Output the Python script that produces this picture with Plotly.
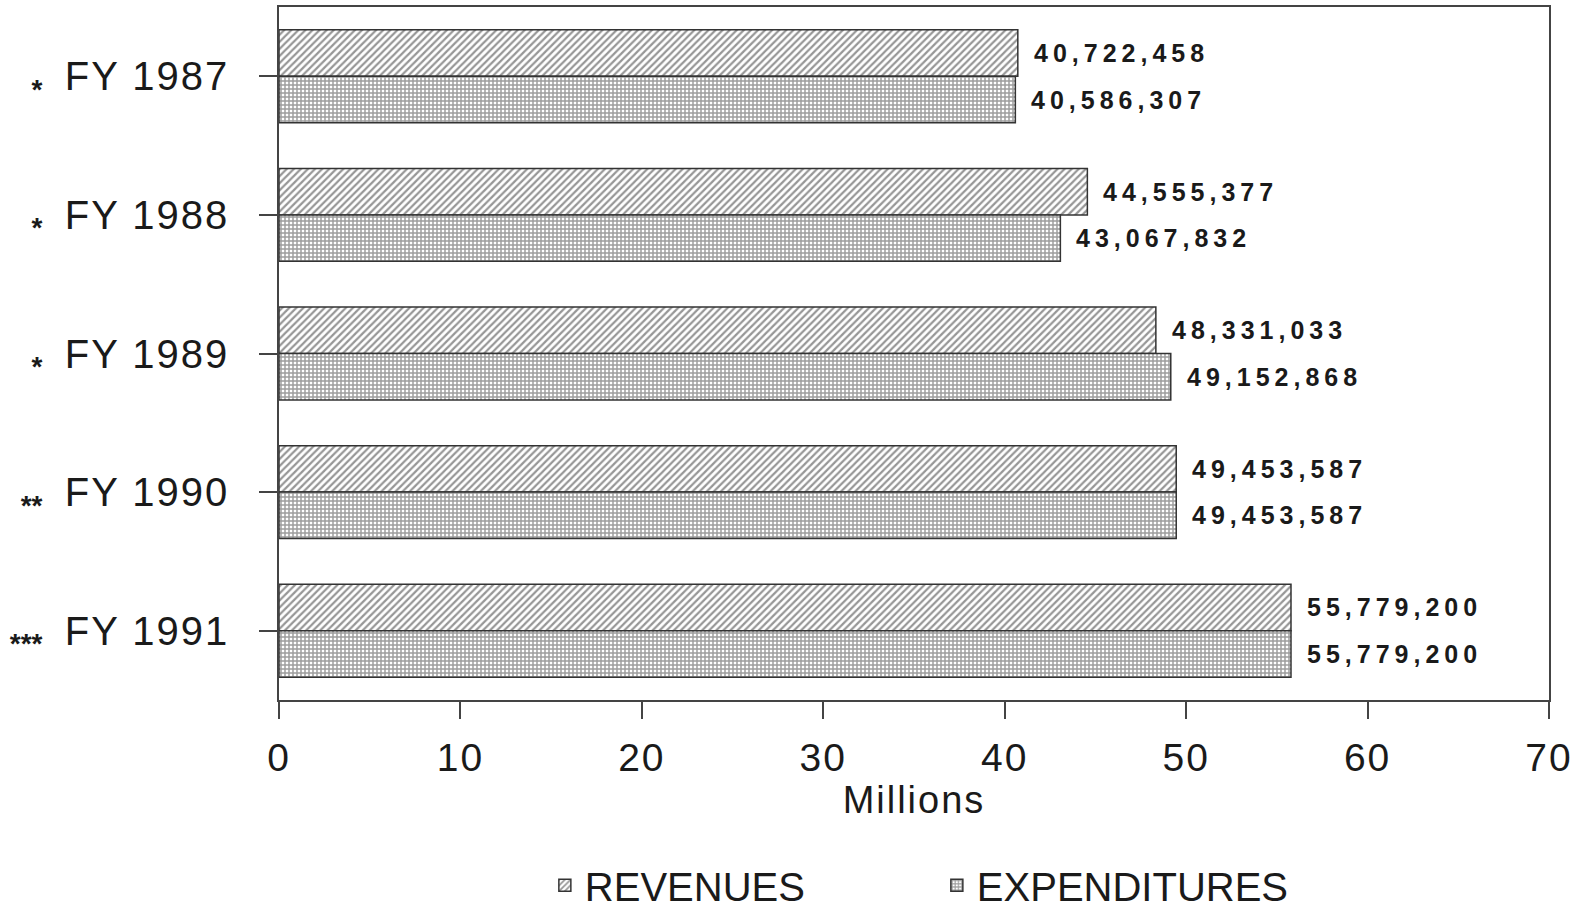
import plotly.graph_objects as go

years = ["FY 1987", "FY 1988", "FY 1989", "FY 1990", "FY 1991"]
stars = ["*", "*", "*", "**", "***"]
revenues = [40722458, 44555377, 48331033, 49453587, 55779200]
expenditures = [40586307, 43067832, 49152868, 49453587, 55779200]
x_ticks = [0, 10, 20, 30, 40, 50, 60, 70]

labels = [f"<sub><b>{s}</b></sub>\u00a0 <span style='letter-spacing:2px'>{y}</span>"
          for s, y in zip(stars, years)]
x_tick_text = [f"<span style='letter-spacing:2px'>{t}</span>" for t in x_ticks]

BARGAP = 0.33
half = (1 - BARGAP) / 4.0

fig = go.Figure()
fig.add_trace(go.Bar(
    y=years, x=[v / 1e6 for v in revenues], orientation="h", name="REVENUES",
    marker=dict(color="white", line=dict(color="#333333", width=1.5),
                pattern=dict(shape="/", size=5, solidity=0.45, fgcolor="#2e2e2e", bgcolor="white")),
))
fig.add_trace(go.Bar(
    y=years, x=[v / 1e6 for v in expenditures], orientation="h", name="EXPENDITURES",
    marker=dict(color="white", line=dict(color="#333333", width=1.5),
                pattern=dict(shape="+", size=4, solidity=0.6, fgcolor="#3a3a3a", bgcolor="white")),
))

annotations = []
for i, (r, e) in enumerate(zip(revenues, expenditures)):
    for val, pos in ((r, i - half), (e, i + half)):
        annotations.append(dict(
            x=val / 1e6, y=pos, xref="x", yref="y", xanchor="left", yanchor="middle",
            xshift=14, showarrow=False,
            text=f"<span style='letter-spacing:5px'>{val:,}</span>",
            font=dict(family="Liberation Sans", size=25, color="#1a1a1a", weight="bold"),
        ))

fig.update_layout(
    width=1587, height=909,
    margin=dict(l=279, r=38, t=5, b=209),
    paper_bgcolor="white", plot_bgcolor="white",
    barmode="group", bargap=BARGAP, bargroupgap=0,
    font=dict(family="Liberation Sans", size=38, color="#1a1a1a"),
    annotations=annotations,
    showlegend=True,
    legend=dict(orientation="h", xref="paper", x=0.518, xanchor="center",
                yref="container", y=0.026, yanchor="middle",
                font=dict(size=40, color="#1a1a1a"), entrywidth=347,
                traceorder="normal"),
    xaxis=dict(range=[0, 70], tickvals=x_ticks, ticktext=x_tick_text,
               ticks="outside", ticklen=17, tickwidth=1.5,
               tickcolor="#444444", showline=True, linecolor="#444444", linewidth=1.5,
               mirror=True, showgrid=False, zeroline=False, ticklabelstandoff=5,
               tickfont=dict(size=39),
               title=dict(text="<span style='letter-spacing:2px'>Millions</span>",
                          font=dict(size=38), standoff=6)),
    yaxis=dict(categoryorder="array", categoryarray=years, autorange="reversed",
               tickvals=years, ticktext=labels,
               ticks="outside", ticklen=18, tickwidth=1.5, tickcolor="#444444",
               showline=True, linecolor="#444444", linewidth=1.5, mirror=True,
               showgrid=False, zeroline=False, ticklabelstandoff=22,
               tickfont=dict(size=40)),
)

fig.write_html("out.html")
